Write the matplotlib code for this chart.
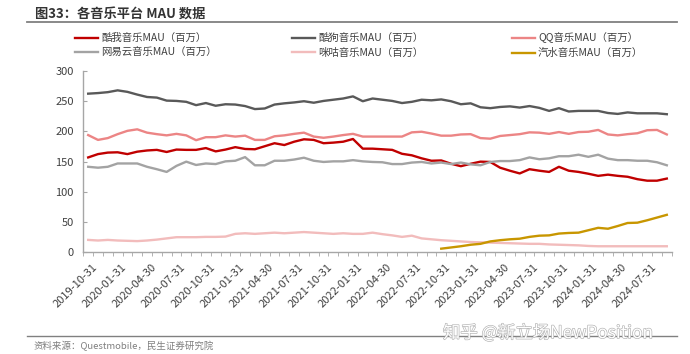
import matplotlib
matplotlib.use("Agg")
import matplotlib.pyplot as plt
import matplotlib.transforms as mtransforms
import matplotlib.patheffects as pe
from matplotlib.lines import Line2D
import numpy as np
import pandas as pd

plt.rcParams['font.family'] = ['Noto Sans CJK SC', 'DejaVu Sans']

# monthly, 2019-10 .. 2024-09
months = pd.date_range('2019-10-31', periods=60, freq='ME')
tick_labels = [d.strftime('%Y-%m-%d') for d in months]

kuwo = [157, 162.5, 165, 165.5, 162.5, 166.5, 168.5, 169.5, 166, 170,
        169.5, 169.5, 172.5, 167, 170, 174, 171, 170.5, 175.5, 180.5,
        177.5, 183, 187, 186, 180.5, 181.5, 183, 187.5, 171.5, 171.5,
        170.5, 169.5, 163, 160.5, 155.5, 151.5, 152, 146.5, 142.5, 146.5,
        150, 149.5, 140, 135, 130.5, 137.5, 135, 133, 141.5, 135,
        133, 130, 126.5, 128.5, 126.5, 125, 121, 118.5, 118.5, 122]
kugou = [262.5, 263.5, 265, 268, 265.5, 261, 257, 256, 251, 250.5,
         249, 243.5, 247, 242.5, 245, 244.5, 242, 237, 238, 244.5,
         246.5, 248, 250, 247.5, 250.5, 252.5, 254.5, 258, 250, 254.5,
         252.5, 250.5, 247, 249, 252.5, 251.5, 253, 250, 245, 246.5,
         240, 238.5, 240.5, 241.5, 239.5, 242, 239, 234, 238.5, 233,
         234, 234, 234, 230.5, 229, 231.5, 230, 230, 230, 228.5]
qq = [194, 186, 189, 195.5, 201, 203.5, 198, 195.5, 193.5, 196,
      193.5, 185.5, 190.5, 190.5, 193.5, 191.5, 193, 186, 186, 192,
      193.5, 196, 198, 191.5, 189.5, 191.5, 194, 196, 191.5, 191.5,
      191.5, 191.5, 191.5, 198.5, 199.5, 196.5, 193, 193, 195, 195.5,
      189, 188, 192.5, 194, 195.5, 198.5, 198, 196, 199, 196,
      199, 199.5, 202.5, 195, 193.5, 195.5, 197, 202, 202.5, 195]
netease = [141.5, 140, 141.5, 147, 147, 147, 141.5, 137.5, 133, 143,
           150, 144.5, 147, 146, 150.5, 151.5, 157.5, 144, 144, 151.5,
           151.5, 153.5, 156.5, 151.5, 149.5, 150.5, 150.5, 152.5, 150.5, 149.5,
           149, 146, 146, 148.5, 149.5, 147, 148.5, 146, 148.5, 145.5,
           144, 149.5, 151, 151, 152.5, 157, 154, 155.5, 159, 159,
           161.5, 158, 161.5, 155, 152.5, 152.5, 151.5, 151.5, 149, 144]
migu = [20.5, 19.5, 20.5, 19.5, 19, 18.5, 19.5, 21, 23, 25,
        25, 25, 25.5, 25.5, 26, 30.5, 31.5, 30.5, 31.5, 32.5,
        31.5, 32.5, 33.5, 32.5, 31.5, 30.5, 31.5, 30.5, 30.5, 32.5,
        30, 28, 25.5, 27.5, 23, 21.5, 20, 19, 18, 17,
        16.5, 16, 15.5, 15, 14.5, 14, 14, 13, 12.5, 12,
        11.5, 10.5, 10, 10, 10, 10, 10, 10, 10, 10]
# 汽水音乐 starts 2022-10-31
qishui_start = 36
qishui = [6, 8, 10, 12.5, 14, 18, 20, 21.5, 22.5, 25.5, 27.5, 28,
          31, 32, 32.5, 36.5, 40.5, 39, 43.5, 48.5, 49, 53, 57.5, 62]

series = [
    ('酷我音乐MAU（百万）', kuwo, '#c00000'),
    ('酷狗音乐MAU（百万）', kugou, '#595959'),
    ('QQ音乐MAU（百万）', qq, '#ec8585'),
    ('网易云音乐MAU（百万）', netease, '#a3a3a3'),
    ('咪咕音乐MAU（百万）', migu, '#f2bcbc'),
]

fig = plt.figure(figsize=(6.9, 3.54), dpi=100)
ax = fig.add_axes([0.1207, 0.2873, 0.8528, 0.5121])

x = np.arange(len(months))
handles = {}
for name, vals, col in series:
    h, = ax.plot(x, vals, color=col, lw=1.7, solid_joinstyle='round')
    handles[name] = h
h, = ax.plot(np.arange(qishui_start, qishui_start + len(qishui)), qishui,
             color='#c89600', lw=1.7)
handles['汽水音乐MAU（百万）'] = h

ax.set_xlim(-0.5, len(months) - 0.5)
ax.set_ylim(0, 300)
ax.set_yticks(range(0, 301, 50))
ax.set_xticks(x[::3])
ax.set_xticklabels(tick_labels[::3], rotation=45, ha='right', va='top',
                   rotation_mode='anchor', fontsize=8, color='#404040')
ax.set_xticks(np.arange(-0.5, len(months), 1), minor=True)
ax.tick_params(axis='x', which='major', length=0, pad=7)
ax.tick_params(axis='x', which='minor', length=3, direction='out', color='#a6a6a6')
ax.tick_params(axis='y', length=3, direction='in', color='#a6a6a6',
               labelsize=8, labelcolor='#404040', pad=7)
offset = mtransforms.ScaledTranslation(0.04, 0, fig.dpi_scale_trans)
for lab in ax.get_xticklabels():
    lab.set_transform(lab.get_transform() + offset)

for s in ['top', 'right']:
    ax.spines[s].set_visible(False)
for s in ['left', 'bottom']:
    ax.spines[s].set_color('#a6a6a6')
    ax.spines[s].set_linewidth(1)

# legend, three columns placed like the source
cols = [(['酷我音乐MAU（百万）', '网易云音乐MAU（百万）'], 75),
        (['酷狗音乐MAU（百万）', '咪咕音乐MAU（百万）'], 292),
        (['QQ音乐MAU（百万）', '汽水音乐MAU（百万）'], 512)]
for names, px in cols:
    fig.legend([handles[n] for n in names], names, loc='center left',
               bbox_to_anchor=(px / 690, 1 - 45.5 / 354), frameon=False,
               fontsize=7.5, handlelength=2.2, handletextpad=0.3,
               labelspacing=0.45, borderpad=0, borderaxespad=0,
               labelcolor='#404040')

fig.text(35 / 690, 1 - 15 / 354, '图33：各音乐平台 MAU 数据', fontsize=9.5,
         fontweight='bold', color='#333333', va='center', ha='left')
fig.add_artist(Line2D([27 / 690, 677 / 690], [1 - 22 / 354] * 2,
                      transform=fig.transFigure, color='#808080', lw=1.3))
fig.add_artist(Line2D([27 / 690, 677 / 690], [1 - 336 / 354] * 2,
                      transform=fig.transFigure, color='#808080', lw=1.0))
fig.text(34 / 690, 1 - 346 / 354, '资料来源：Questmobile，民生证券研究院',
         fontsize=6.8, color='#7f7f7f', va='center', ha='left')
fig.text(443 / 690, 1 - 333 / 354, '知乎 @新立场NewPosition', fontsize=12.5,
         color='white', va='center', ha='left',
         path_effects=[pe.withStroke(linewidth=0.9, foreground='#b0b0b0')])

fig.savefig('out.png', dpi=100)
